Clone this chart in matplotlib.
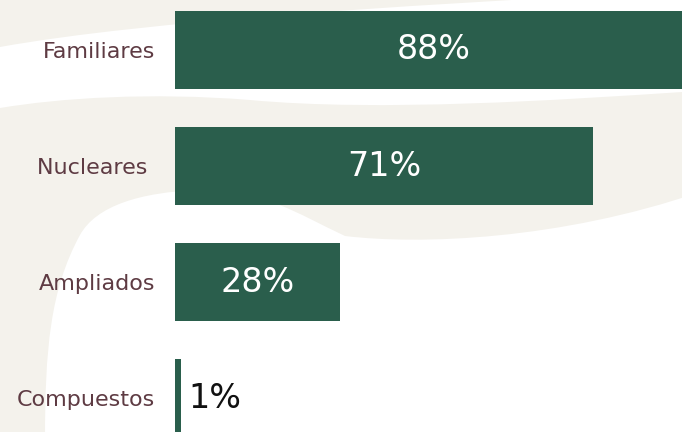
import matplotlib.pyplot as plt
from matplotlib.path import Path
from matplotlib.patches import PathPatch

categories = ['Familiares', 'Nucleares ', 'Ampliados', 'Compuestos']
values = [88, 71, 28, 1]
value_labels = ['88%', '71%', '28%', '1%']

bar_color = '#2a5e4c'
label_color = '#5e3b43'
beige = '#f4f2ec'

fig = plt.figure(figsize=(6.82, 4.32), dpi=100)
fig.patch.set_facecolor(beige)

# decorative background swirls (pixel coords, y down)
bg = fig.add_axes([0, 0, 1, 1])
bg.set_xlim(0, 682)
bg.set_ylim(432, 0)
bg.axis('off')

C = Path.CURVE4
band = Path(
    [(0, 47), (150, 20), (420, 5), (600, -5),
     (700, -10), (700, 90),
     (682, 92), (560, 100), (380, 112), (250, 100),
     (150, 92), (60, 98), (0, 108),
     (0, 47)],
    [Path.MOVETO, C, C, C,
     Path.LINETO, Path.LINETO,
     Path.LINETO, C, C, C,
     C, C, C,
     Path.CLOSEPOLY])
bg.add_patch(PathPatch(band, facecolor='white', edgecolor='none'))

blob = Path(
    [(45, 440), (45, 350), (50, 290), (80, 235),
     (96, 206), (140, 192), (200, 190),
     (260, 188), (300, 215), (345, 236),
     (420, 245), (560, 240), (700, 192),
     (700, 440), (45, 440)],
    [Path.MOVETO, C, C, C,
     C, C, C,
     C, C, C,
     C, C, C,
     Path.LINETO, Path.CLOSEPOLY])
bg.add_patch(PathPatch(blob, facecolor='white', edgecolor='none'))

# bar chart
ax = fig.add_axes([175 / 682, 0, 1 - 175 / 682, 1])
ax.patch.set_alpha(0)
y = list(range(len(categories)))
ax.barh(y, values, height=0.67, color=bar_color)
ax.set_xlim(0, 86.1)
ax.set_ylim(3.293, -0.431)

for i, (v, lab) in enumerate(zip(values, value_labels)):
    if v > 10:
        ax.text(v / 2, i, lab, ha='center', va='center', color='white',
                fontsize=24)
    else:
        ax.text(v + 1.2, i, lab, ha='left', va='center', color='#111111',
                fontsize=24)

ax.set_yticks(y)
ax.set_yticklabels(categories, fontsize=16, color=label_color)
ax.tick_params(axis='y', length=0, pad=14.5)
ax.set_xticks([])
for s in ax.spines.values():
    s.set_visible(False)

fig.savefig('out.png', dpi=100, facecolor=fig.get_facecolor())
